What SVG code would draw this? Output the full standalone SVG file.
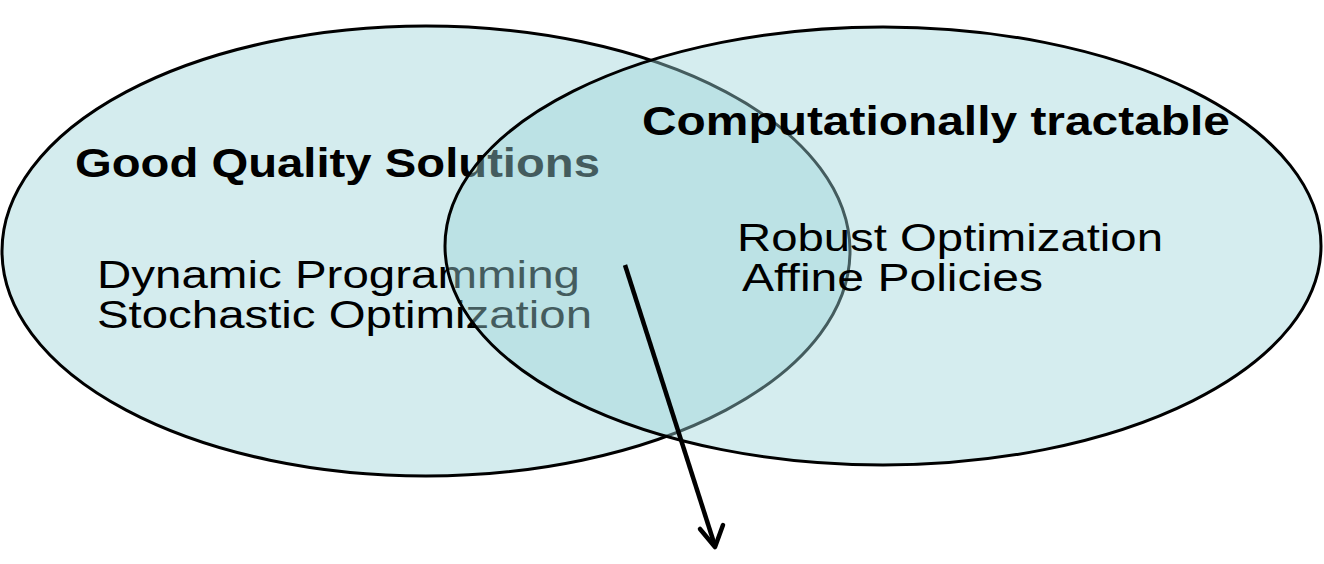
<svg xmlns="http://www.w3.org/2000/svg" width="1324" height="564" viewBox="0 0 1324 564">
<style>
.bold{font-family:"Liberation Sans",Arial,sans-serif;font-weight:bold;font-size:41px;fill:#000}
.reg{font-family:"Liberation Sans",Arial,sans-serif;font-size:38px;fill:#000}
.ell{stroke:#000;stroke-width:3}
</style>
<rect width="1324" height="564" fill="#fff"/>
<g id="node-good">
<ellipse class="ell" cx="426" cy="251" rx="424" ry="225" fill="#d4ecee"/>
<text class="bold" x="75" y="177" textLength="525" lengthAdjust="spacingAndGlyphs">Good Quality Solutions</text>
<text class="reg" x="97" y="288" textLength="483" lengthAdjust="spacingAndGlyphs">Dynamic Programming</text>
<text class="reg" x="97" y="328" textLength="495" lengthAdjust="spacingAndGlyphs">Stochastic Optimization</text>
</g>
<g id="node-tractable">
<ellipse class="ell" cx="883" cy="246" rx="438" ry="219" fill="#9dd5da" fill-opacity="0.43"/>
<text class="bold" x="642" y="135" textLength="588" lengthAdjust="spacingAndGlyphs">Computationally tractable</text>
<text class="reg" x="737" y="251" textLength="426" lengthAdjust="spacingAndGlyphs">Robust Optimization</text>
<text class="reg" x="742" y="291" textLength="301" lengthAdjust="spacingAndGlyphs">Affine Policies</text>
</g>
<g id="connectors">
<line x1="625" y1="265" x2="715" y2="546" stroke="#000" stroke-width="4.5"/>
<polyline points="700,529 715,547 723,525" fill="none" stroke="#000" stroke-width="4.5" stroke-linecap="round" stroke-linejoin="round"/>
</g>
</svg>
